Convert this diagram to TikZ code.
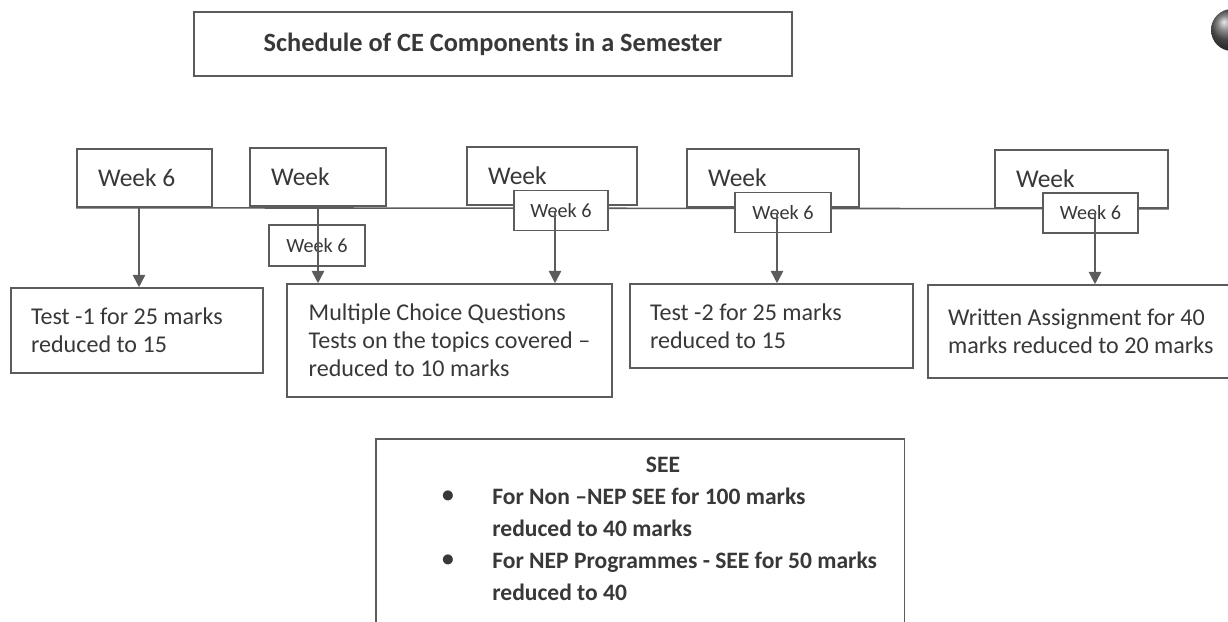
\documentclass[tikz,border=0pt]{standalone}
\usepackage{fontspec}
\setmainfont{Carlito}
\usetikzlibrary{arrows.meta}
\definecolor{ink}{HTML}{383838}
\definecolor{linegray}{HTML}{5C5C5C}

\begin{document}
\begin{tikzpicture}[x=0.02cm,y=-0.02cm,
        box/.style={draw=linegray,line width=0.9pt,text=ink,inner sep=0pt},
        weekbox/.style={box,inner xsep=0.42cm,align=flush left,minimum height=1.16cm,font=\fontsize{14.5}{17}\selectfont},
        smallbox/.style={box,fill=white,minimum height=0.8cm,font=\fontsize{11.5}{13}\selectfont},
        resbox/.style={box,inner xsep=0.4cm,align=flush left,font=\fontsize{13.7}{16}\selectfont},
        seetext/.style={text=ink,inner sep=0pt,align=left,font=\bfseries\fontsize{13.4}{18.2}\selectfont},
        arr/.style={draw=linegray,line width=0.9pt,-{Triangle[length=7pt,width=7pt]}}]
        \useasboundingbox (0,0) rectangle (1228,622);
        \clip (0,0) rectangle (1228,622);

        \shade[ball color=gray!75!black] (1232,30) circle (0.42cm);

        \node[box,minimum width=11.96cm,minimum height=1.28cm,font=\bfseries\fontsize{15}{18}\selectfont] (title) at (493,44) {Schedule of CE Components in a Semester};

        \node[weekbox,text width=1.86cm] (wk1) at (144.5,178) {Week 6};
        \node[weekbox,text width=1.88cm] (wk2) at (318,177) {Week};
        \node[weekbox,text width=2.56cm] (wk3) at (552,176) {Week};
        \node[weekbox,text width=2.6cm] (wk4) at (773,178) {Week};
        \node[weekbox,text width=2.62cm] (wk5) at (1081.5,179) {Week};
        \draw[linegray,line width=0.9pt] (wk1.south west) -- (wk5.south east);

        \node[smallbox,minimum width=1.92cm,minimum height=0.82cm] (sm2) at (317,245.5) {Week 6};
        \node[smallbox,minimum width=1.88cm] (sm3) at (561,210.5) {Week 6};
        \node[smallbox,minimum width=1.92cm] (sm4) at (783,212.5) {Week 6};
        \node[smallbox,minimum width=1.9cm] (sm5) at (1090.5,213) {Week 6};

        \node[resbox,text width=4.24cm,minimum height=1.7cm] (res1) at (137,330.5) {Test -1 for 25 marks\\reduced to 15};
        \node[resbox,inner xsep=0pt,align=left,minimum width=6.5cm,minimum height=2.26cm] (res2) at (449.5,340.5) {Multiple Choice Questions\\Tests on the topics covered –\\reduced to 10 marks};
        \node[resbox,text width=4.86cm,minimum height=1.68cm] (res3) at (771.5,326) {Test -2 for 25 marks\\reduced to 15};
        \node[resbox,text width=5.44cm,minimum height=1.86cm] (res4) at (1084,331.5) {Written Assignment for 40\\marks reduced to 20 marks};

        \draw[arr] ([xshift=-0.11cm]wk1.south) -- ([xshift=-0.11cm]wk1.south |- res1.north);
        \draw[arr] (wk2.south) -- (wk2.south |- res2.north);
        \draw[arr] ([xshift=-0.12cm]sm3.center) -- ([xshift=-0.12cm]sm3.center |- res2.north);
        \draw[arr] ([xshift=-0.12cm]sm4.center) -- ([xshift=-0.12cm]sm4.center |- res3.north);
        \draw[arr] ([xshift=0.09cm]sm5.center) -- ([xshift=0.09cm]sm5.center |- res4.north);

        \node[box,anchor=north west,minimum width=10.58cm,minimum height=4.44cm] (see) at (375,438) {};
        \node[seetext] (seehd) at (663,465) {SEE};
        \node[seetext] (bulA) at (448,497) {•};
        \node[seetext] (bulB) at (448,561) {•};
        \node[seetext,anchor=west] (seeA) at (492,512) {For Non –NEP SEE for 100 marks\\reduced to 40 marks};
        \node[seetext,anchor=west] (seeB) at (492,576) {For NEP Programmes - SEE for 50 marks\\reduced to 40};
\end{tikzpicture}
\end{document}
